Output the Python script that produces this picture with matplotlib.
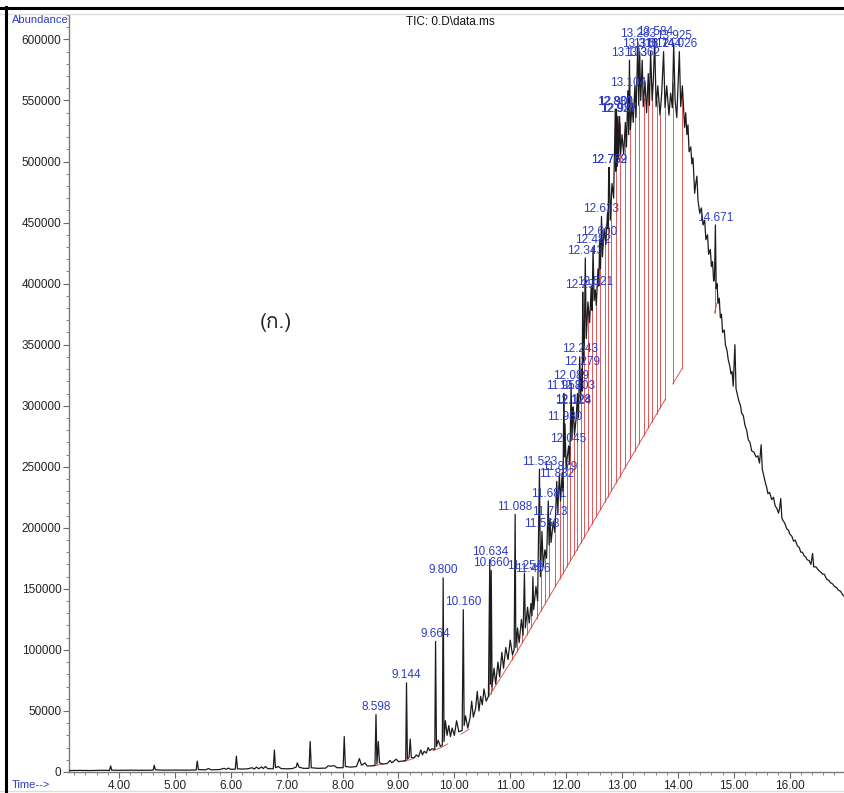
import numpy as np
import matplotlib
matplotlib.use('Agg')
import matplotlib.pyplot as plt
import matplotlib.ticker as ticker
from matplotlib import font_manager
from matplotlib.ft2font import FT2Font
from matplotlib.lines import Line2D

# TIC chromatogram, (time min, abundance) read in chunks
trace_early = [
    (3.10, 1200), (3.30, 1300), (3.50, 1200), (3.70, 1400), (3.83, 1300), (3.85, 5000),
    (3.87, 1500), (4.00, 1400), (4.20, 1500), (4.40, 1400), (4.61, 1500), (4.63, 5500),
    (4.65, 1800), (4.80, 1500), (5.00, 1600), (5.20, 1500), (5.38, 1700), (5.40, 9000),
    (5.42, 2000), (5.55, 1800), (5.60, 2800), (5.65, 1800), (5.80, 2000), (5.88, 3000),
    (5.92, 2200), (5.96, 3200), (6.00, 2200), (6.08, 2300), (6.10, 13000), (6.12, 2600),
    (6.20, 2400), (6.30, 2600), (6.38, 3500), (6.42, 2400), (6.46, 4000), (6.50, 2600),
    (6.55, 4200), (6.58, 2800), (6.62, 4500), (6.66, 2800), (6.76, 2600), (6.78, 18000),
    (6.80, 3500), (6.85, 4500), (6.90, 2800), (7.00, 2600), (7.10, 2800), (7.17, 4000),
    (7.19, 7500), (7.22, 4000), (7.30, 3000), (7.40, 3000), (7.42, 25000), (7.44, 3500),
    (7.55, 3000), (7.70, 3200), (7.74, 5000), (7.80, 4800), (7.85, 5200), (7.90, 3500),
    (8.01, 3500), (8.03, 29000), (8.05, 4500), (8.15, 4000), (8.25, 4500), (8.30, 11000),
    (8.34, 5500), (8.40, 7500), (8.44, 5000), (8.52, 5000),
]
trace_mid = [
    (8.58, 5500), (8.598, 47000), (8.615, 6500), (8.64, 25000), (8.66, 7500), (8.72, 6500),
    (8.80, 7000), (8.85, 9500), (8.88, 7500), (8.92, 9000), (8.96, 10500), (9.00, 8500),
    (9.08, 9000), (9.13, 9500), (9.144, 73000), (9.16, 10500), (9.19, 12000), (9.21, 27000),
    (9.23, 12000), (9.28, 11500), (9.32, 14000), (9.36, 12500), (9.40, 18000), (9.43, 14000),
    (9.46, 17000), (9.50, 15500), (9.53, 20000), (9.56, 17500), (9.60, 19000), (9.65, 18500),
    (9.664, 107000), (9.68, 21000), (9.71, 26000), (9.75, 21000), (9.785, 22000),
    (9.800, 159000), (9.815, 25000), (9.84, 42000), (9.87, 30000), (9.90, 38000),
    (9.93, 29000), (9.96, 36000), (10.00, 30000), (10.04, 42000), (10.08, 33000),
    (10.14, 34000), (10.160, 133000), (10.175, 38000), (10.20, 46000), (10.24, 36000),
    (10.28, 44000), (10.31, 58000), (10.34, 45000), (10.38, 52000), (10.41, 66000),
    (10.44, 50000), (10.47, 62000), (10.50, 55000), (10.53, 68000), (10.57, 58000),
    (10.61, 62000), (10.634, 174000), (10.645, 72000), (10.660, 165000), (10.675, 70000),
    (10.71, 85000), (10.74, 72000), (10.78, 90000), (10.81, 78000), (10.85, 98000),
    (10.88, 85000), (10.92, 102000), (10.96, 92000), (11.00, 108000), (11.04, 96000),
    (11.07, 100000),
]
trace_rise = [
    (11.088, 211000), (11.10, 102000), (11.13, 118000), (11.16, 106000), (11.20, 125000),
    (11.23, 112000), (11.254, 163000), (11.27, 118000), (11.31, 135000), (11.34, 122000),
    (11.37, 138000), (11.39, 128000), (11.406, 160000), (11.42, 133000), (11.46, 152000),
    (11.49, 140000), (11.523, 248000), (11.54, 160000), (11.568, 197000), (11.59, 168000),
    (11.62, 182000), (11.65, 175000), (11.681, 222000), (11.695, 186000), (11.713, 207000),
    (11.73, 188000), (11.77, 205000), (11.80, 196000), (11.832, 238000), (11.85, 212000),
    (11.879, 244000), (11.90, 222000), (11.93, 245000), (11.945, 230000), (11.958, 310000),
    (11.968, 258000), (11.980, 285000), (12.00, 248000), (12.02, 258000), (12.045, 267000),
    (12.06, 252000), (12.075, 275000), (12.089, 318000), (12.105, 272000), (12.124, 298000),
    (12.128, 299000), (12.15, 276000), (12.18, 290000), (12.203, 310000), (12.22, 290000),
    (12.243, 340000), (12.26, 305000), (12.279, 330000), (12.288, 312000), (12.297, 393000),
    (12.31, 335000), (12.325, 350000), (12.343, 421000), (12.36, 355000), (12.39, 385000),
    (12.42, 368000), (12.45, 398000), (12.465, 378000), (12.482, 430000), (12.50, 386000),
    (12.521, 395000), (12.54, 382000), (12.57, 412000), (12.585, 398000), (12.600, 436000),
    (12.615, 412000), (12.633, 455000), (12.65, 422000), (12.68, 445000), (12.71, 432000),
    (12.74, 458000), (12.752, 445000), (12.762, 495000), (12.766, 475000), (12.769, 495000),
    (12.79, 452000), (12.82, 482000), (12.85, 470000), (12.880, 543000), (12.89, 492000),
    (12.901, 543000), (12.915, 496000), (12.927, 537000), (12.94, 502000), (12.957, 537000),
    (12.975, 506000), (13.00, 522000), (13.03, 506000), (13.06, 532000), (13.08, 512000),
    (13.104, 558000), (13.12, 522000), (13.133, 583000), (13.15, 526000), (13.18, 548000),
    (13.20, 532000), (13.23, 562000), (13.25, 536000), (13.283, 598000), (13.30, 546000),
    (13.316, 590000), (13.335, 550000), (13.362, 583000), (13.38, 545000), (13.41, 566000),
    (13.44, 540000), (13.47, 572000), (13.49, 546000), (13.512, 590000), (13.54, 550000),
    (13.56, 566000), (13.584, 600000), (13.61, 545000), (13.64, 562000), (13.68, 538000),
    (13.71, 556000), (13.744, 590000), (13.77, 544000), (13.80, 562000), (13.84, 538000),
    (13.87, 556000), (13.90, 544000), (13.925, 597000), (13.95, 550000), (13.98, 536000),
    (14.026, 590000), (14.05, 545000), (14.08, 562000),
]
trace_tail = [
    (14.12, 528000), (14.14, 540000), (14.16, 522000), (14.18, 530000), (14.20, 508000),
    (14.23, 512000), (14.25, 498000), (14.27, 503000), (14.30, 474000), (14.32, 482000),
    (14.34, 488000), (14.36, 468000), (14.39, 458000), (14.42, 462000), (14.45, 448000),
    (14.48, 452000), (14.50, 436000), (14.53, 440000), (14.55, 424000), (14.58, 428000),
    (14.60, 414000), (14.62, 418000), (14.64, 402000), (14.655, 404000), (14.671, 448000),
    (14.685, 396000), (14.70, 400000), (14.72, 384000), (14.74, 388000), (14.76, 372000),
    (14.78, 375000), (14.80, 360000), (14.83, 362000), (14.85, 350000), (14.88, 345000),
    (14.90, 338000), (14.93, 332000), (14.95, 326000), (14.97, 328000), (14.99, 316000),
    (15.02, 350000), (15.04, 314000), (15.07, 308000), (15.09, 304000), (15.12, 300000),
    (15.14, 294000), (15.17, 292000), (15.20, 284000), (15.23, 280000), (15.26, 272000),
    (15.29, 270000), (15.32, 263000), (15.36, 262000), (15.40, 258000), (15.43, 259000),
    (15.46, 253000), (15.49, 268000), (15.51, 248000), (15.54, 242000), (15.57, 236000),
    (15.59, 233000), (15.61, 228000), (15.64, 229000), (15.68, 223000), (15.71, 225000),
    (15.74, 218000), (15.77, 216000), (15.80, 212000), (15.82, 216000), (15.84, 224000),
    (15.86, 208000), (15.88, 206000), (15.91, 204000), (15.95, 199000), (15.98, 198000),
    (16.00, 195000), (16.04, 193000), (16.07, 189000), (16.10, 190000), (16.14, 185000),
    (16.17, 184000), (16.20, 180000), (16.23, 180000), (16.26, 177000), (16.29, 176000),
    (16.31, 174000), (16.35, 173000), (16.38, 170000), (16.41, 179000), (16.43, 168000),
    (16.47, 168000), (16.52, 165000), (16.55, 164000), (16.59, 162000), (16.62, 162000),
    (16.66, 158000), (16.70, 157000), (16.73, 155000), (16.77, 154000), (16.80, 152000),
    (16.84, 151000), (16.87, 149000), (16.91, 148000), (16.95, 145000), (17.00, 143000),
]

# integrated peaks (retention time, labelled on the trace)
peak_rt = [8.598, 9.144, 9.664, 9.800, 10.160, 10.634, 10.660, 11.088, 11.254, 11.406,
           11.523, 11.568, 11.681, 11.713, 11.832, 11.879, 11.958, 11.980, 12.045, 12.089,
           12.124, 12.128, 12.203, 12.243, 12.279, 12.297, 12.343, 12.482, 12.521, 12.600,
           12.633, 12.762, 12.769, 12.880, 12.901, 12.927, 12.957, 13.104, 13.133, 13.283,
           13.316, 13.362, 13.512, 13.584, 13.744, 13.925, 14.026, 14.671]

# integration baselines (times, abundance) and their drop lines
base_segments = [
    ([8.56, 8.72], [5000, 6500]),
    ([9.10, 9.26], [8500, 11000]),
    ([9.62, 9.76, 9.88], [17500, 20000, 23000]),
    ([10.12, 10.26], [31000, 35000]),
    ([10.62, 11.09], [62000, 96000]),
    ([11.09, 13.77], [96000, 305000]),
    ([13.91, 14.07], [318000, 330000]),
    ([14.655, 14.70], [376000, 384000]),
]
drop_t = [10.62, 10.647, 10.68, 11.03,
          11.12, 11.21, 11.30, 11.37, 11.47, 11.545, 11.62, 11.70, 11.80, 11.89, 11.94,
          12.01, 12.07, 12.14, 12.19, 12.26, 12.32, 12.40, 12.46, 12.54, 12.615, 12.69,
          12.75, 12.81, 12.89, 12.96, 13.05, 13.15, 13.23, 13.30, 13.39, 13.47, 13.53,
          13.62, 13.68, 13.77,
          13.91, 14.07,
          14.655, 14.70]

x_ticks = [4, 5, 6, 7, 8, 9, 10, 11, 12, 13, 14, 15, 16]


def find_font(ch):
    code = ord(ch)
    for f in font_manager.fontManager.ttflist:
        try:
            if code in FT2Font(f.fname).get_charmap():
                return f.name
        except Exception:
            pass
    return 'DejaVu Sans'


plt.rcParams['font.family'] = ['Liberation Sans', 'DejaVu Sans']
BLUE = '#2d3cc4'
RED = '#d63c3c'

pts = trace_early + trace_mid + trace_rise + trace_tail
t = np.array([p[0] for p in pts])
y = np.array([p[1] for p in pts])

W, H = 845, 793
fig = plt.figure(figsize=(W / 100, H / 100), dpi=100)
ax = fig.add_axes([69 / W, 1 - 772 / H, (W - 69) / W, (772 - 15) / H])
ax.set_xlim(3.105, 16.99)
ax.set_ylim(0, 620000)

# baselines + drop lines
for bt, bv in base_segments:
    ax.plot(bt, bv, color=RED, lw=0.7, alpha=0.85, zorder=2)
for d in drop_t:
    for bt, bv in base_segments:
        if bt[0] - 1e-6 <= d <= bt[-1] + 1e-6:
            lo = np.interp(d, bt, bv)
            hi = np.interp(d, t, y)
            ax.vlines(d, lo, hi, color=RED, lw=0.7, alpha=0.85, zorder=2)
            break

ax.plot(t, y, color='#1c1c1c', lw=0.9, zorder=3)

for rt in peak_rt:
    v = np.interp(rt, t, y)
    ax.annotate('%.3f' % rt, (rt, v), xytext=(0, 1), textcoords='offset points',
                ha='center', va='bottom', fontsize=8.5, color=BLUE, zorder=4,
                annotation_clip=False)

for s in ['top', 'right']:
    ax.spines[s].set_visible(False)
for s in ['left', 'bottom']:
    ax.spines[s].set_color('#7a7a7a')
    ax.spines[s].set_linewidth(1.0)

ax.xaxis.set_major_locator(ticker.FixedLocator(x_ticks))
ax.xaxis.set_minor_locator(ticker.MultipleLocator(0.2))
ax.xaxis.set_major_formatter(ticker.FormatStrFormatter('%.2f'))
ax.yaxis.set_major_locator(ticker.MultipleLocator(50000))
ax.yaxis.set_minor_locator(ticker.MultipleLocator(10000))
ax.yaxis.set_major_formatter(ticker.FormatStrFormatter('%d'))
ax.tick_params(which='major', length=4, width=0.8, color='#6a6a6a',
               labelsize=8.5, labelcolor='#222222', pad=1.5)
ax.tick_params(which='minor', length=2.5, width=0.7, color='#8a8a8a')

fig.text(12 / W, 1 - 20 / H, 'Abundance', color=BLUE, fontsize=8, va='center', ha='left')
fig.text(12 / W, 1 - 785 / H, 'Time-->', color=BLUE, fontsize=8, va='center', ha='left')
fig.text(450 / W, 1 - 22 / H, 'TIC: 0.D\\data.ms', color='#111111', fontsize=8.5,
         va='center', ha='center')

thai = find_font('\u0e01')
fig.text(276 / W, 1 - 322 / H, '(ก.)', fontsize=15, color='#222222',
         family=[thai, 'DejaVu Sans'], ha='center', va='center')

# window frame
fig.add_artist(Line2D([0, 1], [1 - 14 / H, 1 - 14 / H], transform=fig.transFigure,
                      color='#d5e2d5', lw=1.0))
fig.add_artist(Line2D([0, 1], [1 - 791 / H, 1 - 791 / H], transform=fig.transFigure,
                      color='#d5e2d5', lw=1.0))
fig.add_artist(Line2D([0, 1], [1 - 7.5 / H, 1 - 7.5 / H], transform=fig.transFigure,
                      color='black', lw=2.2))
fig.add_artist(Line2D([6.5 / W, 6.5 / W], [0, 1 - 7 / H], transform=fig.transFigure,
                      color='black', lw=2.2))

fig.savefig('out.png', dpi=100)
